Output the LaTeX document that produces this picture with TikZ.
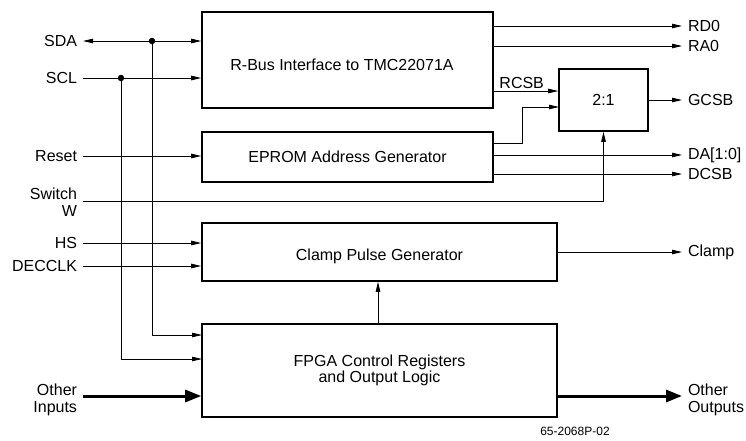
\documentclass[tikz,border=0pt]{standalone}
\usepackage{fontspec}
\setmainfont{Liberation Sans}
\usetikzlibrary{arrows.meta}
\begin{document}
\begin{tikzpicture}[x=1pt,y=-1pt,
  font=\fontsize{16}{16.5}\selectfont,
  box/.style={draw, line width=1.6pt, inner sep=0pt, align=center},
  wire/.style={line width=0.8pt},
  arr/.style={wire, -{Triangle[length=10pt,width=4.5pt]}},
  darr/.style={wire, {Triangle[length=10pt,width=4.5pt]}-{Triangle[length=10pt,width=4.5pt]}},
  bigarr/.style={line width=3pt, -{Triangle[length=16pt,width=12pt]}},
  inl/.style={anchor=east, inner sep=0pt, outer xsep=6pt, align=right},
  outl/.style={anchor=west, inner sep=0pt, outer xsep=6pt, align=left},
  dot/.style={circle, fill, inner sep=0pt, minimum size=6.5pt}]
\useasboundingbox (0,0) rectangle (746,440);

% boxes
\node[box, minimum width=291pt, minimum height=96pt] (rbus) at (347.5,60) {};
\node at (342,65) {R-Bus Interface to TMC22071A};
\node[box, minimum width=291pt, minimum height=50pt] (eprom) at (347.5,157) {EPROM Address Generator};
\node[box, minimum width=89pt, minimum height=62pt] (mux) at (603.5,100) {2:1};
\node[box, minimum width=355pt, minimum height=58pt] (clamp) at (379.5,252) {};
\node at (379.5,256) {Clamp Pulse Generator};
\node[box, minimum width=355pt, minimum height=93pt] (fpga) at (379.5,370.5) {FPGA Control Registers\\and Output Logic};

% input labels
\node[inl] (sda) at (83,41) {SDA};
\node[inl] (scl) at (83,78) {SCL};
\node[inl] (reset) at (83,156) {Reset};
\node[inl] (sw) at (83,202) {Switch\\W};
\coordinate (swend) at (83,201);
\node[inl] (hs) at (83,243) {HS};
\node[inl] (decclk) at (83,266) {DECCLK};
\node[inl] (oth) at (83,400) {Other\\Inputs};
\coordinate (othend) at (83,396);

% output labels
\node[outl] (rd0) at (682,26) {RD0};
\node[outl] (ra0) at (682,46) {RA0};
\node[outl] (gcsb) at (682,100) {GCSB};
\node[outl] (da) at (682,155) {DA[1:0]};
\node[outl] (dcsb) at (682,174) {DCSB};
\node[outl] (clampo) at (682,252) {Clamp};
\node[outl] (oo) at (682,400) {Other\\Outputs};
\coordinate (ooend) at (682,396);

% junctions
\node[dot] (jsda) at (152,41) {};
\node[dot] (jscl) at (121,78) {};
\coordinate (fsda) at (202,335);
\coordinate (fscl) at (202,359);

% left connections
\draw[darr] (sda.east) -- (sda.east -| rbus.west);
\draw[arr] (scl.east) -- (scl.east -| rbus.west);
\draw[arr] (jsda.center) |- (fsda);
\draw[arr] (jscl.center) |- (fscl);
\draw[arr] (reset.east) -- (reset.east -| eprom.west);
\draw[arr] (hs.east) -- (hs.east -| clamp.west);
\draw[arr] (decclk.east) -- (decclk.east -| clamp.west);
\draw[arr] (swend) -| (mux.south);
\draw[bigarr] (othend) -- (othend -| fpga.west);

% right connections
\draw[arr] (rd0.west -| rbus.east) -- (rd0.west);
\draw[arr] (ra0.west -| rbus.east) -- (ra0.west);
\coordinate (rcsb) at (493,91);
\draw[arr] (rcsb) -- (rcsb -| mux.west) node[pos=0.44, above=1pt, inner sep=1pt] (rcsbl) {RCSB};
\coordinate (ep1) at (493,143);
\coordinate (mx2) at (559,107);
\draw[arr] (ep1) -- ++(29,0) |- (mx2);
\draw[arr] (mux.east) -- (gcsb.west);
\draw[arr] (da.west -| eprom.east) -- (da.west);
\draw[arr] (dcsb.west -| eprom.east) -- (dcsb.west);
\draw[arr] (clamp.east) -- (clampo.west);
\draw[arr] (fpga.north -| 378,0) -- (clamp.south -| 378,0);
\draw[bigarr] (ooend -| fpga.east) -- (ooend);

\node[font=\fontsize{12}{13}\selectfont, inner sep=0pt] (fn) at (575,431) {65-2068P-02};
\end{tikzpicture}
\end{document}
